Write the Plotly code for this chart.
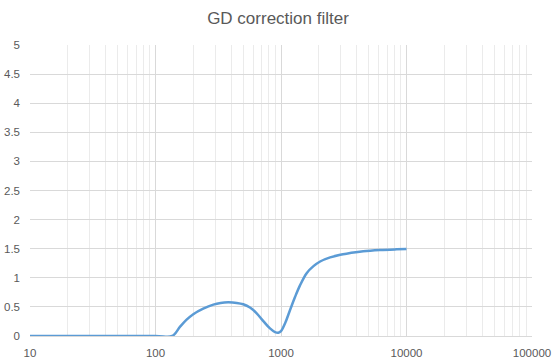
import plotly.graph_objects as go

# Frequency (Hz) and group-delay correction values
freq = [10, 100, 136, 157, 177, 200, 240, 289, 330, 380, 444, 500, 566, 640, 723,
        817, 896, 952, 1000, 1076, 1179, 1293, 1417, 1601, 1815, 2050, 2463, 2967,
        3329, 4518, 6132, 8323, 10000]
gd = [0.0, 0.0, 0.0, 0.16, 0.28, 0.375, 0.47, 0.54, 0.568, 0.578, 0.568, 0.545,
      0.49, 0.39, 0.256, 0.13, 0.068, 0.057, 0.085, 0.216, 0.443, 0.67, 0.87,
      1.08, 1.2, 1.28, 1.35, 1.395, 1.415, 1.455, 1.477, 1.489, 1.494]

major_ticks = [10, 100, 1000, 10000, 100000]
major_text = ["10", "100", "1000", "10000", "100000"]
minor_ticks = [m * d for d in [10, 100, 1000, 10000] for m in range(2, 10)]

title_text = "GD correction filter"

fig = go.Figure()
fig.add_trace(go.Scatter(
    x=freq, y=gd, mode="lines",
    line=dict(color="#5B9BD5", width=2.5, shape="spline", smoothing=1.0),
    hoverinfo="x+y", showlegend=False,
))

font_family = "Liberation Sans, Arial, sans-serif"
fig.update_layout(
    width=556, height=363,
    margin=dict(l=30, r=24, t=45, b=27),
    paper_bgcolor="white", plot_bgcolor="white",
    title=dict(text=title_text, x=0.5, xanchor="center", y=0.95, yanchor="middle",
               font=dict(family=font_family, size=17, color="#595959")),
    font=dict(family=font_family, size=11, color="#595959"),
)
fig.update_xaxes(
    type="log", range=[1, 5], automargin=False,
    tickmode="array", tickvals=major_ticks, ticktext=major_text,
    showgrid=True, gridcolor="#D9D9D9", gridwidth=1,
    minor=dict(tickmode="array", tickvals=minor_ticks, showgrid=True,
               gridcolor="#EBEBEB", gridwidth=1, ticks=""),
    showline=True, linecolor="#D9D9D9", linewidth=1,
    ticks="", zeroline=False, ticklabelstandoff=6,
    tickfont=dict(family=font_family, size=11.5, color="#595959"),
)
fig.update_yaxes(
    range=[0, 5], dtick=0.5, tick0=0, automargin=False,
    showgrid=True, gridcolor="#D9D9D9", gridwidth=1,
    showline=False, zeroline=False, ticks="", ticklabelstandoff=9,
    tickfont=dict(family=font_family, size=11.5, color="#595959"),
)

fig.write_html("out.html")
